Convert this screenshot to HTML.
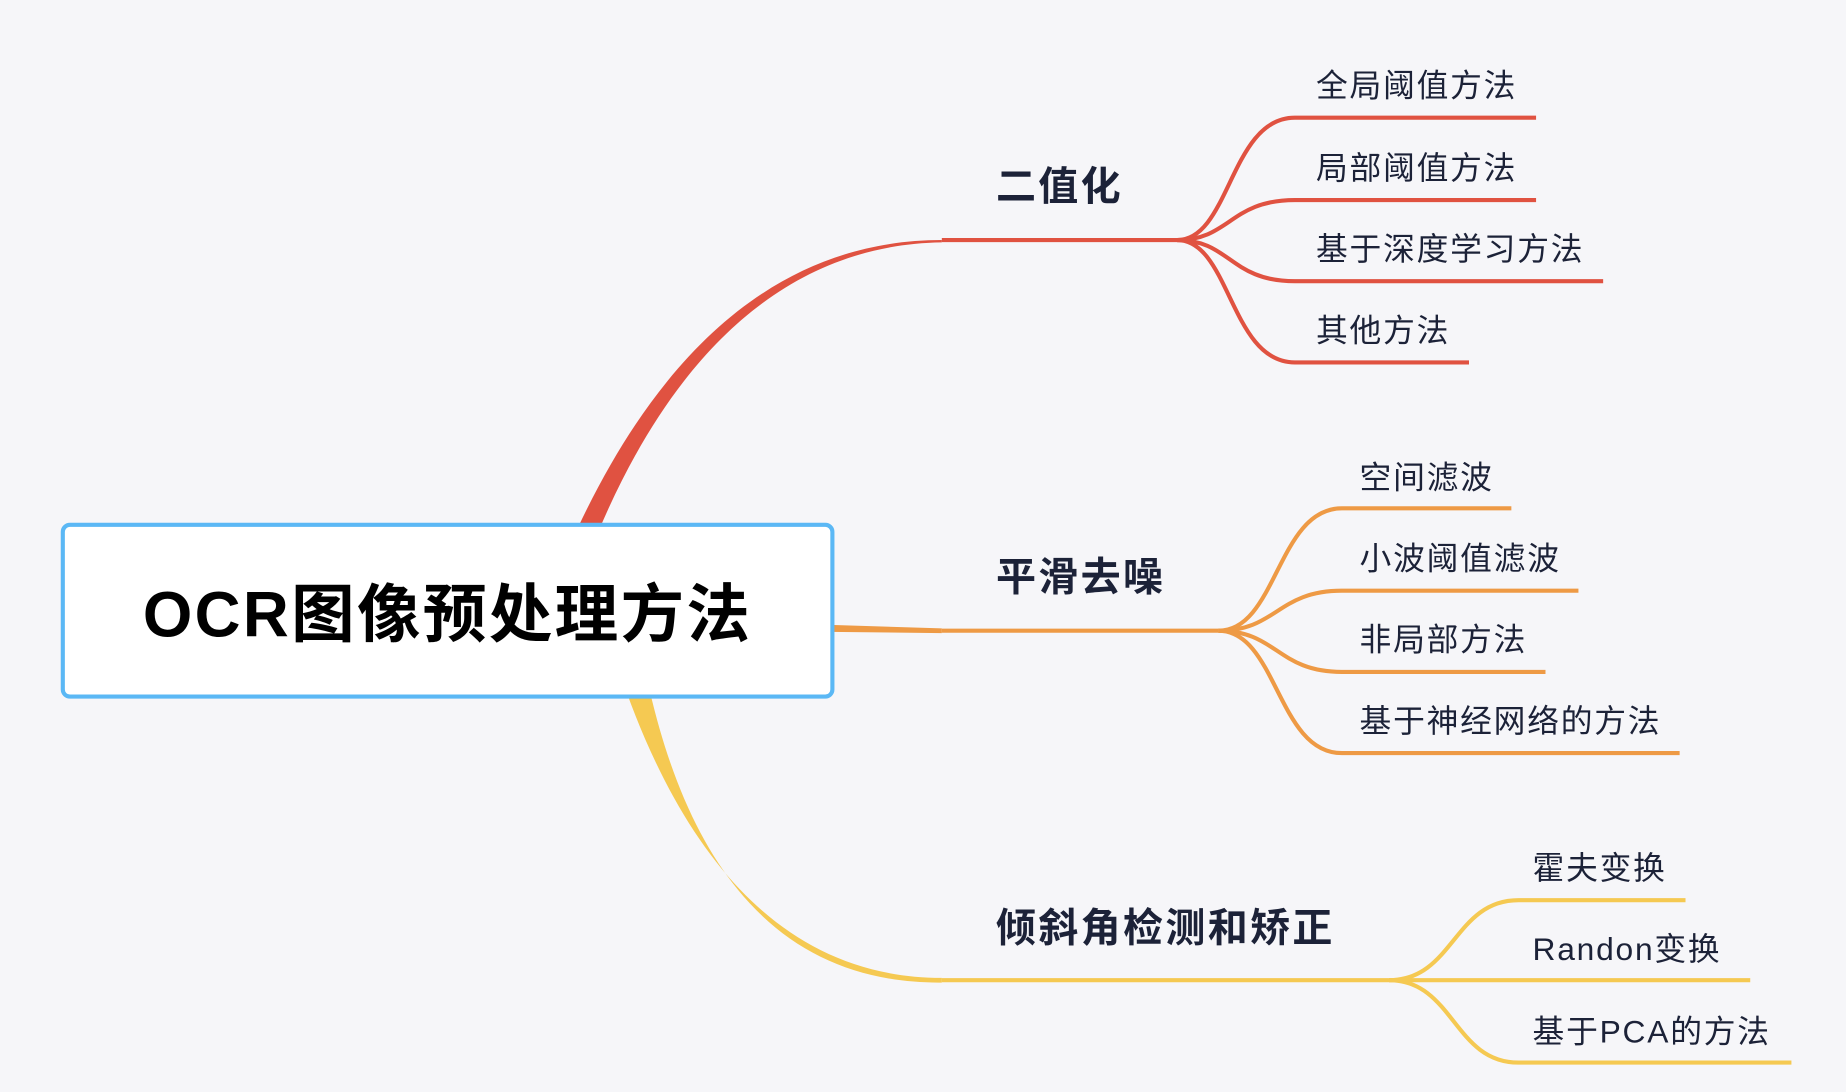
<!DOCTYPE html>
<html><head><meta charset="utf-8"><style>
html,body{margin:0;padding:0;background:#f6f6f9;}
svg{display:block}
text{font-family:"Liberation Sans","Noto Sans CJK SC",sans-serif;fill:#1c2238}
</style></head><body>
<svg width="1846" height="1092" viewBox="0 0 1568 928" xmlns="http://www.w3.org/2000/svg">
<rect width="1568" height="928" fill="#f6f6f9"/>
<!-- red -->
<path d="M490,450 C560,300 660,204 800,204 L800,206 C665,208 570,305 508,452 Z" fill="#e05241"/>
<g fill="none" stroke="#e05241" stroke-width="3.5">
<path d="M800,204 L1000,204"/>
<path d="M1000,204 C1045,204 1045,100 1100,100 L1305,100"/>
<path d="M1000,204 C1045,204 1045,170 1100,170 L1305,170"/>
<path d="M1000,204 C1045,204 1045,239 1100,239 L1362,239"/>
<path d="M1000,204 C1045,204 1045,308 1100,308 L1248,308"/>
</g>
<!-- orange -->
<path d="M705,531 L800,534 L800,538 L705,537 Z" fill="#ee9a45"/>
<g fill="none" stroke="#ee9a45" stroke-width="3.5">
<path d="M800,536 L1035,536"/>
<path d="M1035,536 C1085,536 1085,432 1140,432 L1284,432"/>
<path d="M1035,536 C1085,536 1085,502 1140,502 L1341,502"/>
<path d="M1035,536 C1085,536 1085,571 1140,571 L1313,571"/>
<path d="M1035,536 C1085,536 1085,640 1140,640 L1427,640"/>
</g>
<!-- yellow -->
<path d="M532,588 C580,720 660,831 800,831 L800,835 C670,836 590,750 552,588 Z" fill="#f5c952"/>
<g fill="none" stroke="#f5c952" stroke-width="3.5">
<path d="M800,833 L1180,833"/>
<path d="M1180,833 C1235,833 1235,765 1290,765 L1432,765"/>
<path d="M1180,833 L1487,833"/>
<path d="M1180,833 C1235,833 1235,903 1290,903 L1522,903"/>
</g>
<!-- central -->
<rect x="53" y="446" width="654" height="146" rx="6" fill="#fff" stroke="#5bb8f5" stroke-width="3.5"/>
<text x="380" y="541" text-anchor="middle" font-size="54" font-weight="bold" letter-spacing="2" style="fill:#000">OCR图像预处理方法</text>
<g font-size="34" font-weight="bold" letter-spacing="2">
<text x="846" y="170">二值化</text>
<text x="846" y="502">平滑去噪</text>
<text x="846" y="800">倾斜角检测和矫正</text>
</g>
<g font-size="27" letter-spacing="1.5">
<text x="1118" y="82">全局阈值方法</text>
<text x="1118" y="152">局部阈值方法</text>
<text x="1118" y="221">基于深度学习方法</text>
<text x="1118" y="290">其他方法</text>
<text x="1155" y="415">空间滤波</text>
<text x="1155" y="484">小波阈值滤波</text>
<text x="1155" y="553">非局部方法</text>
<text x="1155" y="622">基于神经网络的方法</text>
<text x="1302" y="747">霍夫变换</text>
<text x="1302" y="816">Randon变换</text>
<text x="1302" y="886">基于PCA的方法</text>
</g>
</svg>
</body></html>
